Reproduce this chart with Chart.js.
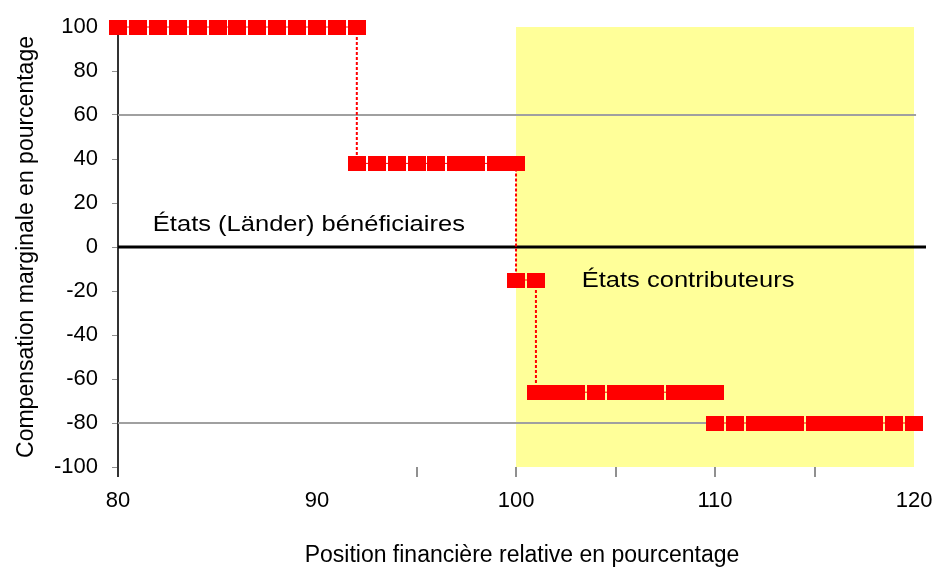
<!DOCTYPE html>
<html>
<head>
<meta charset="utf-8">
<script src="https://cdn.jsdelivr.net/npm/chart.js@4.4.1/dist/chart.umd.min.js"></script>
<style>
  html, body { margin: 0; padding: 0; background: #fff; }
  #wrap { width: 936px; height: 569px; }
</style>
</head>
<body>
<div id="wrap"><canvas id="chart" width="936" height="569"></canvas></div>
<script>
// step levels of the marginal compensation
var levelA = 100;
var levelAx = [80, 81, 82, 83, 84, 85, 86, 87, 88, 89, 90, 91, 92];
var levelB = 38;
var levelBx = [92, 93, 94, 95, 96, 97, 97.5, 98, 99, 99.5, 100];
var levelC = -15;
var levelCx = [100, 101];
var levelD = -66;
var levelDx = [101, 101.5, 102, 102.5, 103, 104, 105, 105.5, 106, 106.5, 107, 108, 108.5, 109, 109.5, 110];
var levelE = -80;
var levelEx = [110, 111, 112, 112.5, 113, 113.5, 114, 115, 115.5, 116, 116.5, 117, 117.5, 118, 119, 120];

// dotted drops between levels
var dropX = [92, 100, 101];
var dropFrom = [100, 38, -15];
var dropTo = [38, -15, -66];

// contributing states zone
var zoneX = [100, 120];
var zoneTop = 100;

// horizontal reference lines
var refY = [60, -80];
var refEnd = [120.1, 110];

var xTicks = [80, 85, 90, 95, 100, 105, 110, 115, 120];
var xTickMarks = [80, 95, 100, 105, 110, 115];

var notes = [
    { text: 'États (Länder) bénéficiaires', x: 81.75, y: 7.3 },
    { text: 'États contributeurs', x: 103.3, y: -18.2 }
];

var RED = '#ff0000';
var FONT = 'Liberation Sans, Arial, sans-serif';

function makeMarker() {
    var c = document.createElement('canvas');
    c.width = 18;
    c.height = 15;
    var g = c.getContext('2d');
    g.fillStyle = RED;
    g.fillRect(0, 0, 18, 15);
    return c;
}
var marker = makeMarker();

function pts(xs, y) {
    return xs.map(function (x) { return { x: x, y: y }; });
}

var datasets = [];

// yellow zone
datasets.push({
    data: pts(zoneX, zoneTop),
    showLine: true,
    fill: 'start',
    backgroundColor: '#ffff99',
    borderWidth: 0,
    pointRadius: 0,
    order: 10
});

// reference lines
for (var i = 0; i < refY.length; i++) {
    datasets.push({
        data: [{ x: 80, y: refY[i] }, { x: refEnd[i], y: refY[i] }],
        showLine: true,
        borderColor: '#a0a0a0',
        borderWidth: 2,
        pointRadius: 0,
        order: 6
    });
}

// zero line
datasets.push({
    data: [{ x: 80, y: 0 }, { x: 120.6, y: 0 }],
    showLine: true,
    borderColor: '#000',
    borderWidth: 3,
    pointRadius: 0,
    clip: false,
    order: 5
});

// dotted drops
for (var j = 0; j < dropX.length; j++) {
    datasets.push({
        data: [{ x: dropX[j], y: dropFrom[j] }, { x: dropX[j], y: dropTo[j] }],
        showLine: true,
        borderColor: RED,
        borderWidth: 2,
        borderDash: [3, 2],
        pointRadius: 0,
        order: 3
    });
}

// steps
var steps = [[levelAx, levelA], [levelBx, levelB], [levelCx, levelC], [levelDx, levelD], [levelEx, levelE]];
steps.forEach(function (s) {
    datasets.push({
        data: pts(s[0], s[1]),
        showLine: true,
        borderColor: RED,
        borderWidth: 1,
        pointStyle: marker,
        pointRadius: 9,
        clip: false,
        order: 1
    });
});

var notesPlugin = {
    id: 'notes',
    afterDatasetsDraw: function (chart) {
        var ctx = chart.ctx;
        var xs = chart.scales.x, ys = chart.scales.y;
        ctx.save();
        ctx.font = '22px ' + FONT;
        ctx.fillStyle = '#000';
        ctx.textAlign = 'left';
        ctx.textBaseline = 'alphabetic';
        notes.forEach(function (n) {
            var px = xs.getPixelForValue(n.x), py = ys.getPixelForValue(n.y);
            ctx.save();
            ctx.translate(px, py);
            ctx.scale(1.16, 1);
            ctx.fillText(n.text, 0, 0);
            ctx.restore();
        });
        ctx.restore();
    }
};

var ctx = document.getElementById('chart');
var myChart = new Chart(ctx, {
    type: 'scatter',
    data: { datasets: datasets },
    plugins: [notesPlugin],
    options: {
        responsive: false,
        animation: false,
        layout: { padding: { top: 27, right: 6, bottom: 0, left: 0 } },
        plugins: {
            legend: { display: false },
            tooltip: { enabled: false }
        },
        scales: {
            x: {
                type: 'linear',
                min: 80,
                max: 120.6,
                afterBuildTicks: function (scale) {
                    scale.ticks = xTicks.map(function (v) { return { value: v }; });
                },
                afterFit: function (scale) {
                    scale.height = 102;
                    scale.paddingLeft = 0;
                    scale.paddingRight = 0;
                },
                border: { display: false },
                grid: {
                    drawOnChartArea: false,
                    tickLength: 10,
                    lineWidth: 2,
                    color: function (c) {
                        if (!c.tick || xTickMarks.indexOf(c.tick.value) < 0) return 'rgba(0,0,0,0)';
                        return c.tick.value === 80 ? '#333' : '#909090';
                    }
                },
                ticks: {
                    autoSkip: false,
                    maxRotation: 0,
                    padding: 11,
                    color: '#000',
                    font: { family: FONT, size: 22 },
                    callback: function (v) { return v % 10 === 0 ? v : ''; }
                },
                title: {
                    display: true,
                    text: 'Position financière relative en pourcentage',
                    color: '#000',
                    font: { family: FONT, size: 23 },
                    padding: { top: 0, bottom: 0 }
                }
            },
            y: {
                min: -100,
                max: 100,
                afterFit: function (scale) {
                    scale.width = 118;
                    scale.paddingTop = 0;
                    scale.paddingBottom = 0;
                },
                border: { display: true, color: '#333', width: 2 },
                grid: {
                    drawOnChartArea: false,
                    tickLength: 6,
                    color: '#909090'
                },
                ticks: {
                    stepSize: 20,
                    padding: 14,
                    color: '#000',
                    font: { family: FONT, size: 22 }
                },
                title: {
                    display: true,
                    text: 'Compensation marginale en pourcentage',
                    color: '#000',
                    font: { family: FONT, size: 23 },
                    padding: { top: 13, bottom: 0 }
                }
            }
        }
    }
});
</script>
</body>
</html>
